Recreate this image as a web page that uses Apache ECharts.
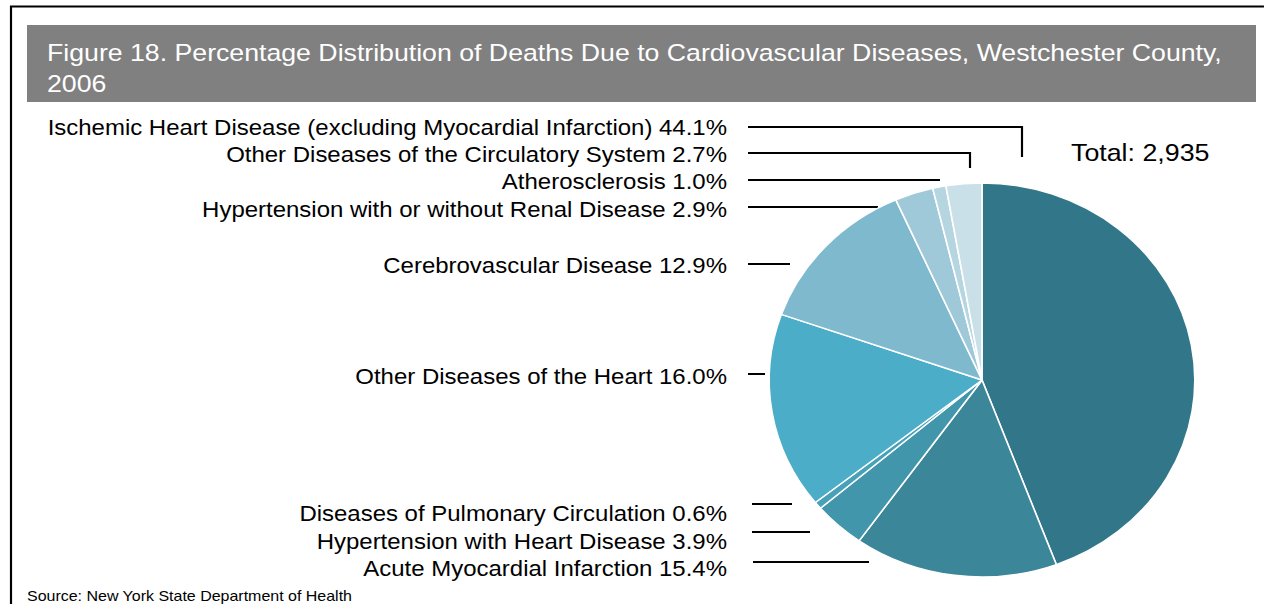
<!DOCTYPE html>
<html>
<head>
<meta charset="utf-8">
<script src="https://cdn.jsdelivr.net/npm/echarts@6/dist/echarts.min.js"></script>
<style>
  html, body { margin: 0; padding: 0; background: #fff; overflow: hidden; }
  /* the original figure is stretched sideways a little (its pie is an ellipse),
     so the chart is drawn narrower and widened back with css */
  #chart { width: 1170px; height: 604px; transform: scaleX(1.0803); transform-origin: 0 0; }
</style>
</head>
<body>
<div id="chart"></div>
<script>
// slices, clockwise from 12 o'clock
const categories = [
  'Ischemic Heart Disease (excluding Myocardial Infarction)',
  'Acute Myocardial Infarction',
  'Hypertension with Heart Disease',
  'Diseases of Pulmonary Circulation',
  'Other Diseases of the Heart',
  'Cerebrovascular Disease',
  'Hypertension with or without Renal Disease',
  'Atherosclerosis',
  'Other Diseases of the Circulatory System'
]
const shares = [44.1, 15.4, 3.9, 0.6, 16.0, 12.9, 2.9, 1.0, 2.7]
const totalDeaths = '2,935'

const sliceColors = ['#327789', '#3b8799', '#4296ab', '#47a2b9', '#4badc7',
  '#7fb9ce', '#9fc9d8', '#b5d5e0', '#c9e0e8']

const SX = 1.0803 // horizontal stretch of the page
const px = (x) => x / SX // page x -> chart x

// where each label sits (right edge, middle) and its leader line, in page pixels
const labelSpots = [
  { x: 727, y: 127, line: [[748, 127], [1022, 127], [1022, 157]] },
  { x: 727, y: 568, line: [[753, 562], [869, 562], [869, 562]] },
  { x: 727, y: 541, line: [[752, 532], [810, 532], [810, 532]] },
  { x: 727, y: 513, line: [[752, 504], [792, 504], [792, 504]] },
  { x: 727, y: 376, line: [[748, 374], [765, 374], [765, 374]] },
  { x: 727, y: 265, line: [[748, 264], [790, 264], [790, 264]] },
  { x: 727, y: 209, line: [[748, 207], [878, 207], [878, 207]] },
  { x: 727, y: 181, line: [[748, 180], [940, 180], [940, 180]] },
  { x: 727, y: 154, line: [[748, 153], [970, 153], [970, 168]] }
]

const font = 'Liberation Sans, Arial, sans-serif'
const chart = echarts.init(document.getElementById('chart'), null, { renderer: 'svg' })

const options = {
  animation: false,
  title: {
    text: 'Figure 18. Percentage Distribution of Deaths Due to Cardiovascular Diseases, Westchester County,\n2006',
    left: px(47),
    top: 37,
    padding: 0,
    textStyle: {
      color: '#ffffff',
      fontFamily: font,
      fontWeight: 'normal',
      fontSize: 24.7,
      lineHeight: 31
    }
  },
  graphic: [
    { type: 'rect', z: -1, shape: { x: px(27), y: 25, width: px(1229), height: 77 }, style: { fill: '#808080' } },
    { type: 'line', shape: { x1: px(10), y1: 6.5, x2: 1170, y2: 6.5 }, style: { stroke: '#000', lineWidth: 2 } },
    { type: 'line', shape: { x1: px(11), y1: 6, x2: px(11), y2: 604 }, style: { stroke: '#000', lineWidth: 2 } },
    {
      type: 'text', left: px(1071), top: 140,
      style: { text: 'Total: ' + totalDeaths, fill: '#000', font: '24.8px ' + font }
    },
    {
      type: 'text', left: px(27), top: 588,
      style: { text: 'Source: New York State Department of Health', fill: '#000', font: '14.8px ' + font }
    }
  ],
  series: [
    {
      type: 'pie',
      center: [px(982), 380],
      radius: 197,
      startAngle: 90,
      clockwise: true,
      avoidLabelOverlap: false,
      data: categories.map((name, i) => ({
        name,
        value: shares[i],
        itemStyle: { color: sliceColors[i] }
      })),
      itemStyle: { borderColor: '#ffffff', borderWidth: 1.5 },
      label: {
        show: true,
        formatter: (p) => p.name + ' ' + p.value.toFixed(1) + '%',
        color: '#000',
        fontFamily: font,
        fontSize: 22.2
      },
      labelLine: {
        show: true,
        length: 10,
        length2: 10,
        lineStyle: { color: '#000', width: 2 }
      },
      labelLayout: (params) => {
        const spot = labelSpots[params.dataIndex]
        return {
          x: px(spot.x),
          y: spot.y,
          align: 'right',
          verticalAlign: 'middle',
          labelLinePoints: spot.line.map(([x, y]) => [px(x), y])
        }
      },
      emphasis: { disabled: true }
    }
  ]
}

chart.setOption(options)
</script>
</body>
</html>
